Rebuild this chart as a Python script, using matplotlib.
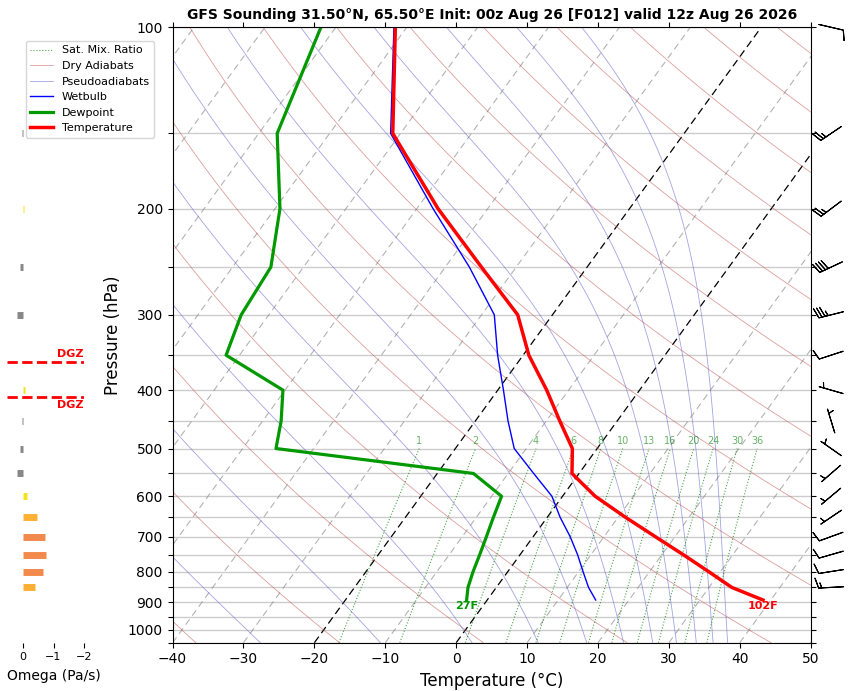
import numpy as np
import matplotlib
matplotlib.use('Agg')
import matplotlib.pyplot as plt
from matplotlib.transforms import Affine2D, blended_transform_factory
from matplotlib.lines import Line2D
from matplotlib.ticker import NullLocator

# sounding levels (hPa), surface first
pres = [892, 850, 800, 750, 700, 650, 600, 550, 500, 450, 400, 350, 300, 250, 200, 150, 100]
temp = [38.9, 33.2, 28.3, 23.0, 17.2, 11.0, 4.6, -1.0, -3.5, -8.1, -13.1, -19.2, -24.9, -34.9, -47.0, -61.1, -71.6]
dewp = [-2.9, -4.0, -4.9, -5.7, -6.6, -7.6, -8.6, -14.9, -45.3, -47.4, -50.3, -61.9, -63.9, -64.6, -69.3, -77.4, -82.1]
wetb = [15.3, 13.0, 10.6, 8.1, 5.2, 1.8, -1.5, -6.4, -11.7, -15.4, -19.2, -23.6, -28.2, -36.6, -47.7, -61.4, -71.8]

# winds (direction deg, speed kt)
wind_pres = [850, 800, 750, 700, 650, 600, 550, 500, 450, 400, 350, 300, 250, 200, 150, 100]
wind_dir = [267, 261, 254, 250, 236, 230, 229, 305, 343, 286, 252, 256, 245, 233, 236, 103]
wind_kt = [15, 10, 10, 10, 5, 5, 5, 5, 5, 5, 10, 35, 40, 25, 25, 10]

# vertical velocity (Pa/s)
omega_pres = [850, 800, 750, 700, 650, 600, 550, 500, 450, 400, 350, 300, 250, 200, 150, 100]
omega = [-0.39, -0.65, -0.77, -0.71, -0.45, -0.13, 0.19, 0.09, 0.02, -0.06, 0.0, 0.19, 0.09, -0.03, 0.02, 0.0]

# background lines
isotherms = np.arange(-100, 51, 10)
dry_theta = np.arange(-60, 261, 20)      # degC
moist_thetae = np.arange(-30, 171, 20)   # degC
mix_ratios = [1, 2, 4, 6, 8, 10, 13, 16, 20, 24, 30, 36]  # g/kg

P_BOT, P_TOP = 1050, 100
p_grid = np.geomspace(P_BOT, P_TOP, 100)


def sat_thetae(tk, p):
    es = 6.112 * np.exp(17.67 * (tk - 273.15) / (tk - 29.65))
    r = 622.0 * es / np.maximum(p - es, 1e-3)
    return tk * (1000.0 / p) ** (0.2854 * (1 - 0.28e-3 * r)) * \
        np.exp((3.376 / tk - 0.00254) * r * (1 + 0.81e-3 * r))


def moist_adiabat(thetae_k, p):
    lo = np.full_like(p, 150.0)
    hi = np.full_like(p, 330.0)
    with np.errstate(all='ignore'):
        for _ in range(60):
            mid = 0.5 * (lo + hi)
            too_warm = sat_thetae(mid, p) > thetae_k
            hi = np.where(too_warm, mid, hi)
            lo = np.where(too_warm, lo, mid)
    return 0.5 * (lo + hi) - 273.15


def mix_dewpoint(w, p):
    e = (w / 1000.0) * p / (0.622 + w / 1000.0)
    a = np.log(e / 6.112)
    return 243.5 * a / (17.67 - a)


fig = plt.figure(figsize=(8.54, 6.91), dpi=100)
ax = fig.add_axes([0.2021, 0.0699, 0.7472, 0.8906])
ax.set_yscale('log')
skew = ax.transScale + (ax.transLimits + Affine2D().skew_deg(35, 0)) + ax.transAxes

for t in isotherms:
    if t in (0, -20):
        ax.plot([t, t], [P_BOT, P_TOP], color='k', ls='--', lw=0.9, dashes=(6, 3.5), transform=skew)
    else:
        ax.plot([t, t], [P_BOT, P_TOP], color='gray', ls='--', lw=0.8, dashes=(6, 4),
                alpha=0.6, transform=skew)

for th in dry_theta:
    tt = (th + 273.15) * (p_grid / 1000.0) ** 0.2857 - 273.15
    ax.plot(tt, p_grid, color='#c0504d', lw=0.6, alpha=0.55, transform=skew)

for te in moist_thetae:
    ax.plot(moist_adiabat(te + 273.15, p_grid), p_grid, color='#5a5ac8', lw=0.6, alpha=0.55,
            transform=skew)

p_mix = np.geomspace(P_BOT, 500, 40)
for w in mix_ratios:
    ax.plot(mix_dewpoint(w, p_mix), p_mix, color='green', ls=':', lw=0.8, alpha=0.7, transform=skew)
    ax.annotate(str(w), xy=(mix_dewpoint(w, 500.0), 500), xycoords=skew,
                xytext=(0, 1.5), textcoords='offset points',
                ha='center', va='bottom', fontsize=7, color='green', alpha=0.6)

ax.plot(wetb, pres, color='blue', lw=1, transform=skew)
ax.plot(dewp, pres, color='#009900', lw=2.3, transform=skew)
ax.plot(temp, pres, color='red', lw=2.5, transform=skew)

ax.annotate(f"{dewp[0] * 9 / 5 + 32:.0f}F", xy=(dewp[0], pres[0]), xycoords=skew,
            xytext=(0, -1), textcoords='offset points', ha='center', va='top',
            fontsize=8, fontweight='bold', color='#009900')
ax.annotate(f"{temp[0] * 9 / 5 + 32:.0f}F", xy=(temp[0], pres[0]), xycoords=skew,
            xytext=(0, -1), textcoords='offset points', ha='center', va='top',
            fontsize=8, fontweight='bold', color='red')

# wind barbs just right of the frame
wd = np.radians(wind_dir)
u = -np.array(wind_kt) * np.sin(wd)
v = -np.array(wind_kt) * np.cos(wd)
btrans = blended_transform_factory(ax.transAxes, ax.transData)
ax.barbs(np.full(len(wind_pres), 1.032), wind_pres, u, v, transform=btrans,
         clip_on=False, pivot='middle', length=6, linewidth=0.8)

ax.set_xlim(-40, 50)
ax.set_ylim(P_BOT, P_TOP)
ax.set_xticks(np.arange(-40, 51, 10))
yt = np.arange(100, 1051, 50)
ax.set_yticks(yt)
ax.set_yticklabels([str(p) if p % 100 == 0 else '' for p in yt])
ax.yaxis.set_minor_locator(NullLocator())
ax.tick_params(labelsize=10, top=True, right=True)
ax.yaxis.grid(True, color='#cccccc', lw=1)
ax.set_xlabel('Temperature (°C)', fontsize=12)
ax.set_ylabel('Pressure (hPa)', fontsize=12)
ax.set_title('GFS Sounding 31.50°N, 65.50°E Init: 00z Aug 26 [F012] valid 12z Aug 26 2026',
             fontsize=10, fontweight='bold')

handles = [
    Line2D([], [], color='green', ls=':', lw=0.8, alpha=0.7),
    Line2D([], [], color='#c0504d', lw=0.6, alpha=0.55),
    Line2D([], [], color='#5a5ac8', lw=0.6, alpha=0.55),
    Line2D([], [], color='blue', lw=1),
    Line2D([], [], color='#009900', lw=2.3),
    Line2D([], [], color='red', lw=2.5),
]
labels = ['Sat. Mix. Ratio', 'Dry Adiabats', 'Pseudoadiabats', 'Wetbulb', 'Dewpoint', 'Temperature']
fig.legend(handles, labels, loc='upper left', bbox_to_anchor=(26 / 854, 1 - 41 / 691),
           borderaxespad=0, fontsize=8)

# omega panel
oax = fig.add_axes([7.3 / 854, 0.0699, 77 / 854, 0.8906])
oax.set_yscale('log')
for p, w in zip(omega_pres, omega):
    if w > 0:
        c = '#888888'
    elif w > -0.2:
        c = '#f5e21f'
    elif w > -0.5:
        c = '#fdb034'
    else:
        c = '#f28a4e'
    oax.hlines(p, 0, w, color=c, lw=5)

# dendritic growth zone from temperature profile
logp = np.log(np.array(pres[::-1], dtype=float))
p_dgz_top = np.exp(np.interp(-18, temp[::-1], logp))
p_dgz_bot = np.exp(np.interp(-12, temp[::-1], logp))
otrans = blended_transform_factory(oax.transAxes, oax.transData)
oax.axhline(p_dgz_top, color='red', ls='--', lw=2)
oax.axhline(p_dgz_bot, color='red', ls='--', lw=2)
oax.annotate('DGZ', xy=(0.985, p_dgz_top), xycoords=otrans, xytext=(0, 2.5),
             textcoords='offset points', ha='right', va='bottom',
             color='red', fontweight='bold', fontsize=8)
oax.annotate('DGZ', xy=(0.985, p_dgz_bot), xycoords=otrans, xytext=(0, -2.5),
             textcoords='offset points', ha='right', va='top',
             color='red', fontweight='bold', fontsize=8)

oax.set_xlim(0.5, -2)
oax.set_ylim(P_BOT, P_TOP)
oax.set_xticks([0, -1, -2])
oax.tick_params(axis='x', labelsize=8)
oax.set_yticks([])
oax.yaxis.set_minor_locator(NullLocator())
for s in oax.spines.values():
    s.set_visible(False)
oax.set_xlabel('Omega (Pa/s)', fontsize=10)
oax.xaxis.set_label_coords(0.61, -0.042)

fig.savefig('out.png', dpi=100)
